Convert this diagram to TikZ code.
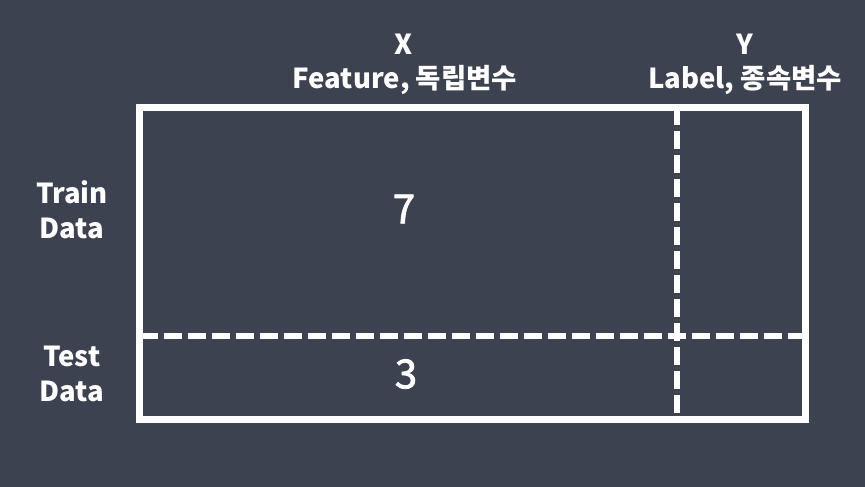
\documentclass[tikz,border=0pt]{standalone}
\usepackage{fontspec}
\setmainfont{Noto Sans CJK KR}
\newfontfamily\midfont{Noto Sans CJK KR}[FakeBold=2]
\usepackage{tikz}
\usetikzlibrary{positioning}
\definecolor{bgdark}{HTML}{3C4250}

\begin{document}
\begin{tikzpicture}[x=1pt, y=-1pt,
	every node/.style={text=white, align=center, font=\bfseries\fontsize{27.5}{35}\selectfont},
	frame/.style={draw=white, line width=7pt},
	split/.style={draw=white, line width=6pt, dash pattern=on 18pt off 6pt},
	count/.style={font=\midfont\fontsize{40}{42}\selectfont}]
	\fill [bgdark] (0,0) rectangle (865,487);
	\useasboundingbox (0,0) rectangle (865,487);
	
	% table
	\coordinate (tl) at (139.5,107);
	\coordinate (br) at (805,419.5);
	\draw [frame] (tl) rectangle (br);
	\draw [split] (139.5,336) -- (805,336);
	\draw [split] (677,107) -- (677,419.5);
	
	% column heads
	\node (xhead) at (404,44) {X};
	\node (xname) at (405,80) {Feature, 독립변수};
	\node (yhead) at (745,44) {Y};
	\node (yname) at (745,80) {Label, 종속변수};
	
	% row heads
	\node (train) at (72,210) {Train\\Data};
	\node (test) at (72,374) {Test\\Data};
	
	\node [count] (seven) at (404,209) {7};
	\node [count] (three) at (406,374) {3};
\end{tikzpicture}
\end{document}
